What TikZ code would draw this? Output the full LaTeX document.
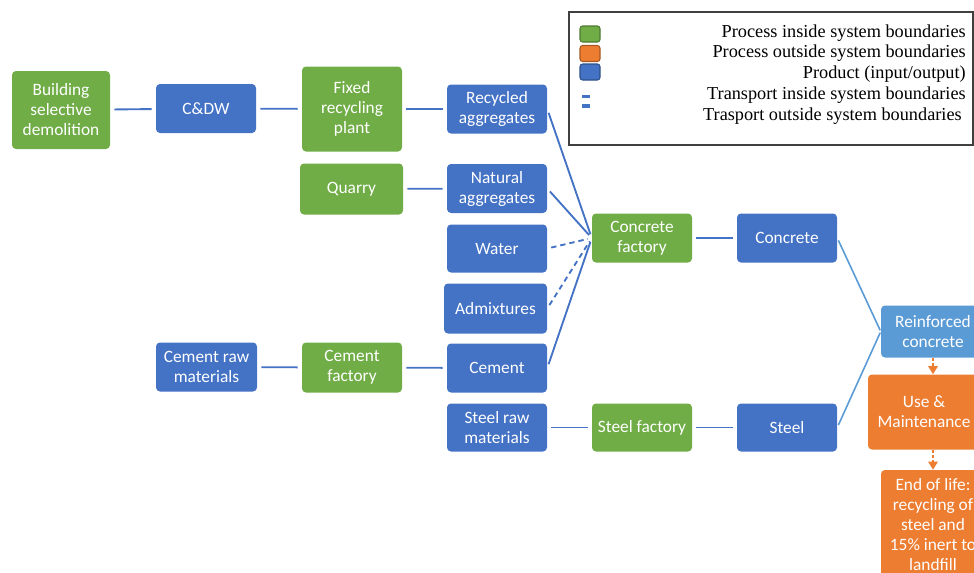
\documentclass[tikz,border=0pt]{standalone}
\usepackage{fontspec}
\setmainfont{Carlito}
\newfontfamily\tnr{Liberation Serif}
\usetikzlibrary{arrows.meta}
\definecolor{pgreen}{HTML}{70AD47}
\definecolor{pblue}{HTML}{4472C4}
\definecolor{lblue}{HTML}{5B9BD5}
\definecolor{porange}{HTML}{ED7D31}
\definecolor{lgray}{HTML}{404040}
\tikzset{
  box/.style={rounded corners=3pt, text=white, align=center, inner sep=0pt,
    font=\fontsize{13}{15}\selectfont, minimum width=75pt, minimum height=36.75pt},
  proc/.style={box, fill=pgreen},
  prod/.style={box, fill=pblue},
  outp/.style={box, fill=porange},
  link/.style={draw=pblue, line width=1.4pt, shorten <=3pt, shorten >=3pt},
  dlink/.style={link, dashed, dash pattern=on 4pt off 3pt},
  llink/.style={draw=lblue, line width=1.2pt, shorten <=2pt, shorten >=1pt},
  oarrow/.style={draw=porange, line width=1.2pt, dashed, dash pattern=on 2.5pt off 1.5pt, -{Triangle[length=6pt,width=7pt]}},
  legtext/.style={anchor=east, inner sep=0pt, font=\tnr\fontsize{13.7}{15}\selectfont},
  swatch/.style={rounded corners=2pt, minimum width=15pt, minimum height=12pt, inner sep=0pt, line width=0.8pt},
}
\begin{document}
\begin{tikzpicture}[x=0.75pt,y=-0.75pt]
\useasboundingbox (0,0) rectangle (974,572);
\clip (0,0) rectangle (974,572);
% legend
\draw[lgray, line width=1pt] (569,12) rectangle (973,145);
\node[swatch, fill=pgreen, draw=pgreen!70!black] (lg1) at (590,34) {};
\node[swatch, fill=porange, draw=porange!70!black] (lg2) at (590,53.5) {};
\node[swatch, fill=pblue, draw=pblue!70!black] (lg3) at (590,72) {};
\node[fill=pblue, minimum width=6pt, minimum height=2.5pt, inner sep=0pt] (lg4) at (586,96.5) {};
\node[fill=pblue, minimum width=6pt, minimum height=2.5pt, inner sep=0pt] (lg5) at (586,106) {};
\node[legtext] (t1) at (966,33) {Process inside system boundaries};
\node[legtext] (t2) at (966,53) {Process outside system boundaries};
\node[legtext] (t3) at (966,74) {Product (input/output)};
\node[legtext] (t4) at (966,95) {Transport inside system boundaries};
\node[legtext] (t5) at (962,116) {Trasport outside system boundaries};
% nodes
\node[proc, minimum width=73.5pt, minimum height=58.5pt] (demo) at (61,110) {Building\\selective\\demolition};
\node[prod] (cdw) at (206,108.5) {C\&DW};
\node[proc, minimum height=63.75pt] (fixed) at (352,109) {Fixed\\recycling\\plant};
\node[prod] (recyc) at (497,109) {Recycled\\aggregates};
\node[proc, minimum width=77.25pt, minimum height=38.25pt] (quarry) at (351.5,189) {Quarry};
\node[prod] (natural) at (497,188.5) {Natural\\aggregates};
\node[prod, minimum height=36pt] (water) at (497,248.5) {Water};
\node[prod, minimum width=77.25pt, minimum height=37.5pt] (admix) at (495.5,308.5) {Admixtures};
\node[prod] (cement) at (497,368) {Cement};
\node[prod, minimum width=75.75pt] (cemraw) at (206.5,367) {Cement raw\\materials};
\node[proc, minimum height=37.5pt] (cemfac) at (352,367.5) {Cement\\factory};
\node[prod, minimum height=36pt] (steelraw) at (497,427.5) {Steel raw\\materials};
\node[proc, minimum height=36pt] (steelfac) at (642,427.5) {Steel factory};
\node[prod, minimum height=36pt] (steel) at (787,427.5) {Steel};
\node[proc] (concfac) at (642,238) {Concrete\\factory};
\node[prod] (concrete) at (787,238) {Concrete};
\node[box, fill=lblue, minimum width=78pt, minimum height=39pt] (reinf) at (933,331.5) {Reinforced\\concrete};
\node[outp, minimum width=84pt, minimum height=56.25pt] (use) at (924,412) {Use \&\\Maintenance};
\node[outp, minimum width=78pt, minimum height=82.5pt] (eol) at (933,525) {End of life:\\recycling of\\steel and\\15\% inert to\\landfill};
% connectors
\draw[link] (demo) -- (cdw);
\draw[link] (cdw) -- (fixed);
\draw[link] (fixed) -- (recyc);
\draw[link] (quarry) -- (natural);
\draw[link] (cemraw) -- (cemfac);
\draw[link] (cemfac) -- (cement);
\draw[link] (steelraw) -- (steelfac);
\draw[link] (steelfac) -- (steel);
\draw[link] (concfac) -- (concrete);
\draw[link] (recyc.east) -- (concfac.west);
\draw[link] (natural.east) -- (concfac.west);
\draw[dlink] (water.east) -- (concfac.west);
\draw[dlink] (admix.east) -- (concfac.west);
\draw[link] (cement.east) -- (concfac.west);
\draw[llink] (concrete.east) -- (reinf.west);
\draw[llink] (steel.east) -- (reinf.west);
\draw[oarrow] (reinf.south) -- (use.north -| reinf.south);
\draw[oarrow] (use.south -| reinf.south) -- (eol.north);
\end{tikzpicture}
\end{document}
